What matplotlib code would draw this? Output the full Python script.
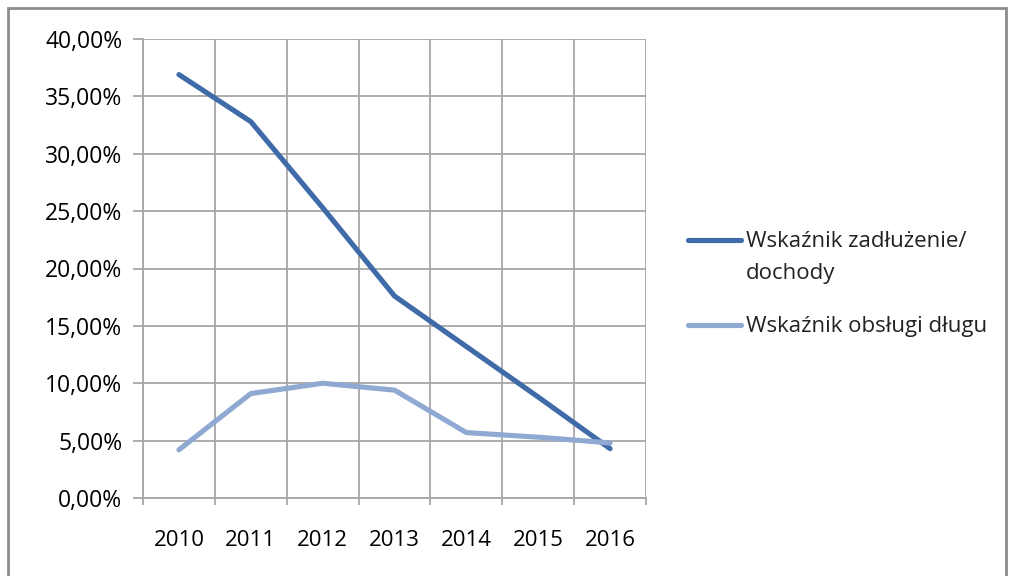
import matplotlib
matplotlib.use("Agg")
import matplotlib.pyplot as plt
from matplotlib.patches import Rectangle
from matplotlib.ticker import FuncFormatter, MultipleLocator

years = ["2010", "2011", "2012", "2013", "2014", "2015", "2016"]
debt_income = [36.9, 32.8, 25.3, 17.6, 13.2, 8.8, 4.3]
debt_service = [4.2, 9.1, 10.0, 9.4, 5.7, 5.3, 4.8]
series_names = ["Wskaźnik zadłużenie/\ndochody", "Wskaźnik obsługi długu"]

plt.rcParams['font.family'] = ['Open Sans', 'DejaVu Sans']

fig = plt.figure(figsize=(10.12, 5.76), dpi=100)
fig.patch.set_facecolor("white")
fig.patches.append(Rectangle((8/1012, -0.1), (1006-8)/1012, 1.1 - 8/576,
                             transform=fig.transFigure, fill=False,
                             edgecolor="#8c8c8c", linewidth=2))

ax = fig.add_axes([143/1012, 1 - 498/576, (646-143)/1012, (498-39)/576])
x = list(range(len(years)))
ax.plot(x, debt_income, color="#3F6CA8", lw=3.7, solid_capstyle="round",
        label=series_names[0])
ax.plot(x, debt_service, color="#8FA9D2", lw=3.7, solid_capstyle="round",
        label=series_names[1])

ax.set_xlim(-0.5, len(years) - 0.5)
ax.set_ylim(0, 40)
ax.yaxis.set_major_locator(MultipleLocator(5))
ax.yaxis.set_major_formatter(FuncFormatter(lambda v, p: f"{v:.2f}%".replace(".", ",")))
ax.set_xticks(x)
ax.set_xticklabels(years)
ax.set_xticks([i - 0.5 for i in range(len(years) + 1)], minor=True)
ax.grid(True, which="major", axis="y", color="#a6a6a6", lw=1.3)
ax.grid(True, which="minor", axis="x", color="#a6a6a6", lw=1.3)
ax.set_axisbelow(True)
ax.tick_params(axis="x", which="major", length=0, labelsize=16, pad=23, colors="#000000")
ax.tick_params(axis="x", which="minor", length=5, width=1.3, color="#a6a6a6")
ax.tick_params(axis="y", length=7, width=1.3, color="#a6a6a6", labelsize=16.5, pad=8,
               labelcolor="#000000")
for s in ["top", "right"]:
    ax.spines[s].set_visible(False)
for s in ["left", "bottom"]:
    ax.spines[s].set_color("#a6a6a6")
    ax.spines[s].set_linewidth(1.3)

leg = ax.legend(loc="upper left", bbox_to_anchor=(668/1012, 1 - 211/576),
                bbox_transform=fig.transFigure, frameon=False, fontsize=16,
                handlelength=2.4, handletextpad=0.2, labelspacing=1.45,
                labelcolor="#222222")
for t in leg.get_texts():
    t.set_linespacing(1.7)
# align the first handle with the first line of its two-line label
h0 = leg.legend_handles[0]
yd = h0.get_ydata()
h0.set_ydata([v + 12.5 for v in yd])

fig.savefig("out.png", dpi=100)
